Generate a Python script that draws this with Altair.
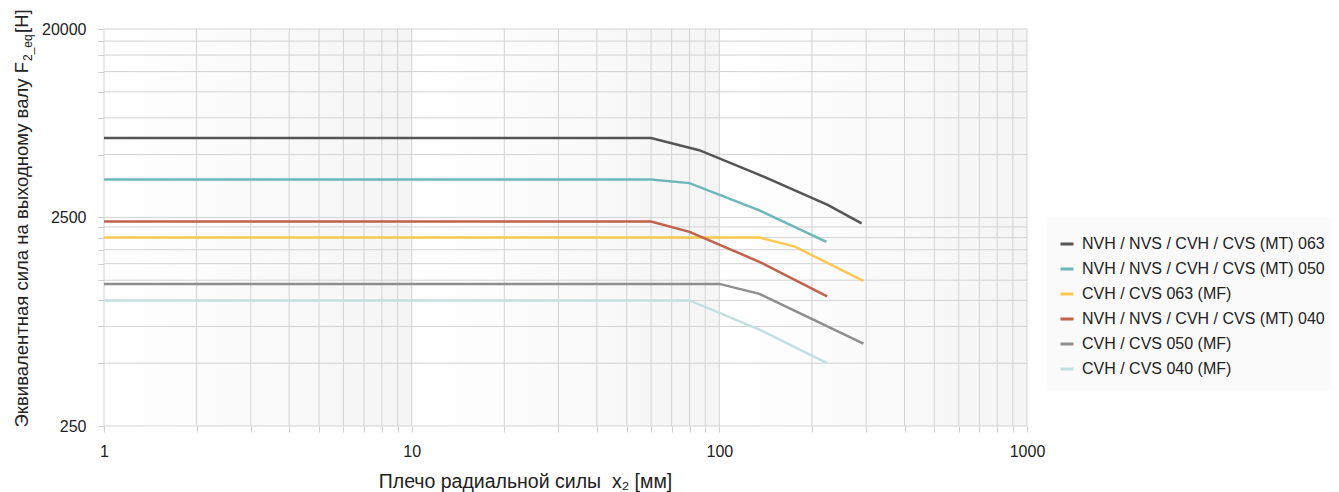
import altair as alt
import pandas as pd

# ---- data ----
series = [
    "NVH / NVS / CVH / CVS (MT) 063",
    "NVH / NVS / CVH / CVS (MT) 050",
    "CVH / CVS 063 (MF)",
    "NVH / NVS / CVH / CVS (MT) 040",
    "CVH / CVS 050 (MF)",
    "CVH / CVS 040 (MF)",
]
colors = ["#555555", "#6db7bb", "#fdc84e", "#c1614b", "#8e8e8e", "#c3dfe0"]

mt063_x = [1, 60, 86, 135, 225, 290]
mt063_y = [6000, 6000, 5250, 4000, 2870, 2340]
mt050_x = [1, 60, 80, 135, 223]
mt050_y = [3800, 3800, 3650, 2700, 1910]
mf063_x = [1, 135, 176, 294]
mf063_y = [2000, 2000, 1810, 1240]
mt040_x = [1, 60, 80, 135, 224]
mt040_y = [2390, 2390, 2130, 1530, 1045]
mf050_x = [1, 100, 135, 294]
mf050_y = [1200, 1200, 1075, 620]
mf040_x = [1, 80, 135, 224]
mf040_y = [1000, 1000, 725, 500]

xs_list = [mt063_x, mt050_x, mf063_x, mt040_x, mf050_x, mf040_x]
ys_list = [mt063_y, mt050_y, mf063_y, mt040_y, mf050_y, mf040_y]

x_grid = [1, 2, 3, 4, 5, 6, 7, 8, 9, 10, 20, 30, 40, 50, 60, 70, 80, 90,
          100, 200, 300, 400, 500, 600, 700, 800, 900, 1000]
y_grid = [250, 500, 750, 1000, 1250, 1500, 1750, 2000, 2250, 2500,
          5000, 7500, 10000, 12500, 15000, 17500, 20000]
x_labels = [1, 10, 100, 1000]
y_labels = [250, 2500, 20000]
decade_start = [1, 10, 100]
decade_end = [10, 100, 1000]

x_title = "Плечо радиальной силы\u00a0 x₂ [мм]"
y_title_main = "Эквивалентная сила на выходному валу F"
y_title_sub = "2_eq"
y_title_unit = "[H]"

rows = []
for name, xs, ys in zip(series, xs_list, ys_list):
    for xv, yv in zip(xs, ys):
        rows.append({"series": name, "x": xv, "y": yv})
df = pd.DataFrame(rows)

W, H = 923, 397
FONT = "Liberation Sans"
GRID = "#d3d3d3"

x_scale = alt.Scale(type="log", domain=[1, 1000], nice=False)
y_scale = alt.Scale(type="log", domain=[250, 20000], nice=False)

x_lab_expr = "indexof(%s, datum.value) >= 0 ? datum.label : ''" % str(x_labels)
y_lab_expr = "indexof(%s, datum.value) >= 0 ? datum.label : ''" % str(y_labels)

grad = alt.LinearGradient(
    gradient="linear", x1=0, x2=1, y1=0, y2=0,
    stops=[
        alt.GradientStop(offset=0, color="#ffffff"),
        alt.GradientStop(offset=1, color="#f5f5f5"),
    ],
)

bands = alt.Chart(pd.DataFrame({"a": decade_start, "b": decade_end})).mark_rect(
    fill=grad
).encode(
    x=alt.X("a:Q", scale=x_scale,
            axis=alt.Axis(values=x_grid, labelExpr=x_lab_expr, format="d",
                          title=x_title, labelPadding=11, labelOverlap=False,
                          labelFlush=False, grid=False,
                          titleX=421, titleY=61, titleAlign="center",
                          titleBaseline="alphabetic", titleAnchor="middle",
                          titleFontSize=19.5)),
    x2="b:Q",
    y=alt.value(0), y2=alt.value(H),
)

vgrid = alt.Chart(pd.DataFrame({"g": x_grid})).mark_rule(
    color=GRID, strokeWidth=1
).encode(x=alt.X("g:Q", scale=x_scale), y=alt.value(0), y2=alt.value(H))

hgrid = alt.Chart(pd.DataFrame({"g": y_grid})).mark_rule(
    color=GRID, strokeWidth=1
).encode(
    y=alt.Y("g:Q", scale=y_scale,
            axis=alt.Axis(values=y_grid, labelExpr=y_lab_expr, format="d",
                          title=None, labelPadding=12, labelOverlap=False,
                          labelFlush=False, grid=False)),
    x=alt.value(0), x2=alt.value(W),
)

lines = alt.Chart(df).mark_line(strokeWidth=2.5).encode(
    x=alt.X("x:Q", scale=x_scale),
    y=alt.Y("y:Q", scale=y_scale),
    color=alt.Color("series:N",
                    scale=alt.Scale(domain=series, range=colors),
                    sort=series,
                    legend=alt.Legend(orient="none", legendX=955, legendY=207,
                                      title=None, symbolType="stroke",
                                      symbolStrokeWidth=3, symbolSize=169,
                                      labelFont=FONT, labelFontSize=16,
                                      labelColor="#222222", labelLimit=400,
                                      rowPadding=9, labelOffset=7, padding=0)),
    order=alt.Order("x:Q"),
)

legend_bg = alt.Chart(pd.DataFrame({"k": [0]})).mark_rect(fill="#fafafa").encode(
    x=alt.value(943), x2=alt.value(1227), y=alt.value(189), y2=alt.value(361)
)

t_main = alt.Chart(pd.DataFrame({"t": [y_title_main]})).mark_text(
    angle=270, align="right", baseline="alphabetic", font=FONT, fontSize=18.5,
    color="#222222"
).encode(text="t:N", x=alt.value(-76), y=alt.value(33))

t_sub = alt.Chart(pd.DataFrame({"t": [y_title_sub]})).mark_text(
    angle=270, align="left", baseline="alphabetic", font=FONT, fontSize=12,
    color="#222222"
).encode(text="t:N", x=alt.value(-72), y=alt.value(32))

t_unit = alt.Chart(pd.DataFrame({"t": [y_title_unit]})).mark_text(
    angle=270, align="left", baseline="alphabetic", font=FONT, fontSize=18.5,
    color="#222222"
).encode(text="t:N", x=alt.value(-76), y=alt.value(4))

chart = alt.layer(bands, vgrid, hgrid, legend_bg, lines, t_main, t_sub, t_unit).properties(
    width=W, height=H,
    padding={"left": 96, "top": 21, "right": 304, "bottom": 66},
    autosize=alt.AutoSizeParams(type="none"),
    background="#ffffff",
).configure_view(
    strokeWidth=0
).configure_axis(
    tickColor="#cfcfcf", tickSize=6, tickWidth=1, domain=False,
    labelFont=FONT, labelFontSize=16, labelColor="#222222",
    titleFont=FONT, titleFontSize=19.5, titleColor="#222222", titleFontWeight="normal",
)

chart.save("out.html", embed_options={"renderer": "svg", "actions": False})
